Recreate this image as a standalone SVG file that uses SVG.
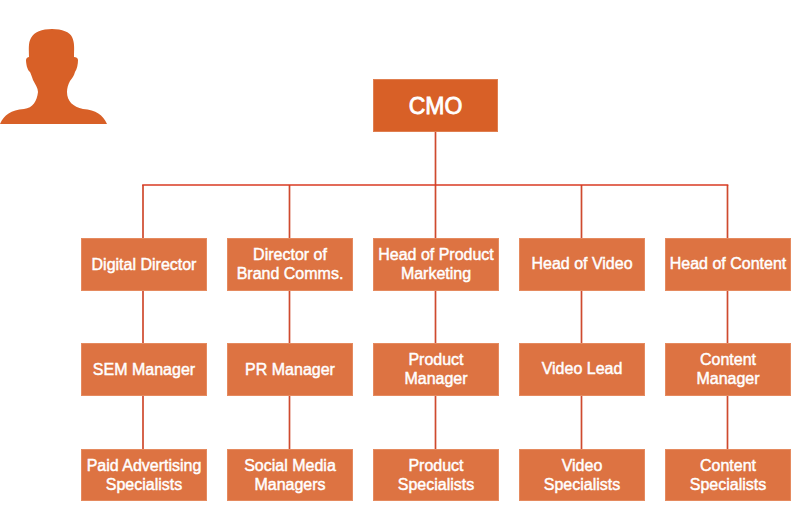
<svg xmlns="http://www.w3.org/2000/svg" width="800" height="523" viewBox="0 0 800 523">
<style>
.n{fill:#dd7342;stroke:#e58a5f;stroke-width:1}
.c{fill:#d86027;stroke:#e07f50;stroke-width:1}
text{font-family:"Helvetica Neue","Liberation Sans",Arial,sans-serif;fill:#fff;text-anchor:middle;font-size:16px;stroke:#fff;stroke-width:.45}
.t{font-size:23px;stroke-width:.8}
#connectors path{fill:none;stroke-width:1.7}
#connectors .v{stroke:#cf4a2e}
#connectors .h{stroke:#d93a22}
</style>
<rect width="800" height="523" fill="#fff"/>
<path id="person" fill="#d86027" d="M0 124C4 115 11 110 24 109C33 108 37 101 38 92C38 88 35 84 33 80C32 77 31 74 30 72C27 70 26 63 26 60C26 58 28 57 29 57C29 50 28 43 31 38C34 32 42 29 52 29C62 29 70 32 72 37C75 43 74 50 74 57C76 57 78 58 78 60C78 64 77 69 75 72C74 76 72 78 70 81C68 85 67 88 67 92C67 101 73 107 83 109C96 110 103 115 107 124Z"/>
<g id="connectors">
<path class="v" d="M435.500 132V185M143 185V238M289.500 185V238M435.500 185V238M581.500 185V238M727.500 185V238"/>
<path class="h" d="M142.200 185H728.300"/>
<path class="v" d="M143 290V343M289.500 290V343M435.500 290V343M581.500 290V343M727.500 290V343"/>
<path class="v" d="M143 396V449M289.500 396V449M435.500 396V449M581.500 396V449M727.500 396V449"/>
</g>
<g id="cmo"><rect class="c" x="373.500" y="79.500" width="124" height="52"/><text class="t" x="435.500" y="113.500">CMO</text></g>
<g id="digital-director"><rect class="n" x="81.500" y="238.500" width="125" height="52"/><text x="144" y="270">Digital Director</text></g>
<g id="brand-comms"><rect class="n" x="227.500" y="238.500" width="125" height="52"/><text x="290" y="260">Director of</text><text x="290" y="279">Brand Comms.</text></g>
<g id="product-marketing"><rect class="n" x="373.500" y="238.500" width="125" height="52"/><text x="436" y="260">Head of Product</text><text x="436" y="279">Marketing</text></g>
<g id="head-video"><rect class="n" x="519.500" y="238.500" width="125" height="52"/><text x="582" y="269">Head of Video</text></g>
<g id="head-content"><rect class="n" x="665.500" y="238.500" width="125" height="52"/><text x="728" y="269">Head of Content</text></g>
<g id="sem"><rect class="n" x="81.500" y="343.500" width="125" height="52"/><text x="144" y="374.500">SEM Manager</text></g>
<g id="pr"><rect class="n" x="227.500" y="343.500" width="125" height="52"/><text x="290" y="374.500">PR Manager</text></g>
<g id="product-manager"><rect class="n" x="373.500" y="343.500" width="125" height="52"/><text x="436" y="365">Product</text><text x="436" y="384">Manager</text></g>
<g id="video-lead"><rect class="n" x="519.500" y="343.500" width="125" height="52"/><text x="582" y="374">Video Lead</text></g>
<g id="content-manager"><rect class="n" x="665.500" y="343.500" width="125" height="52"/><text x="728" y="365">Content</text><text x="728" y="384">Manager</text></g>
<g id="paid"><rect class="n" x="81.500" y="449.500" width="125" height="51"/><text x="144" y="471">Paid Advertising</text><text x="144" y="490">Specialists</text></g>
<g id="social"><rect class="n" x="227.500" y="449.500" width="125" height="51"/><text x="290" y="471">Social Media</text><text x="290" y="490">Managers</text></g>
<g id="product-spec"><rect class="n" x="373.500" y="449.500" width="125" height="51"/><text x="436" y="471">Product</text><text x="436" y="490">Specialists</text></g>
<g id="video-spec"><rect class="n" x="519.500" y="449.500" width="125" height="51"/><text x="582" y="471">Video</text><text x="582" y="490">Specialists</text></g>
<g id="content-spec"><rect class="n" x="665.500" y="449.500" width="125" height="51"/><text x="728" y="471">Content</text><text x="728" y="490">Specialists</text></g>
</svg>
